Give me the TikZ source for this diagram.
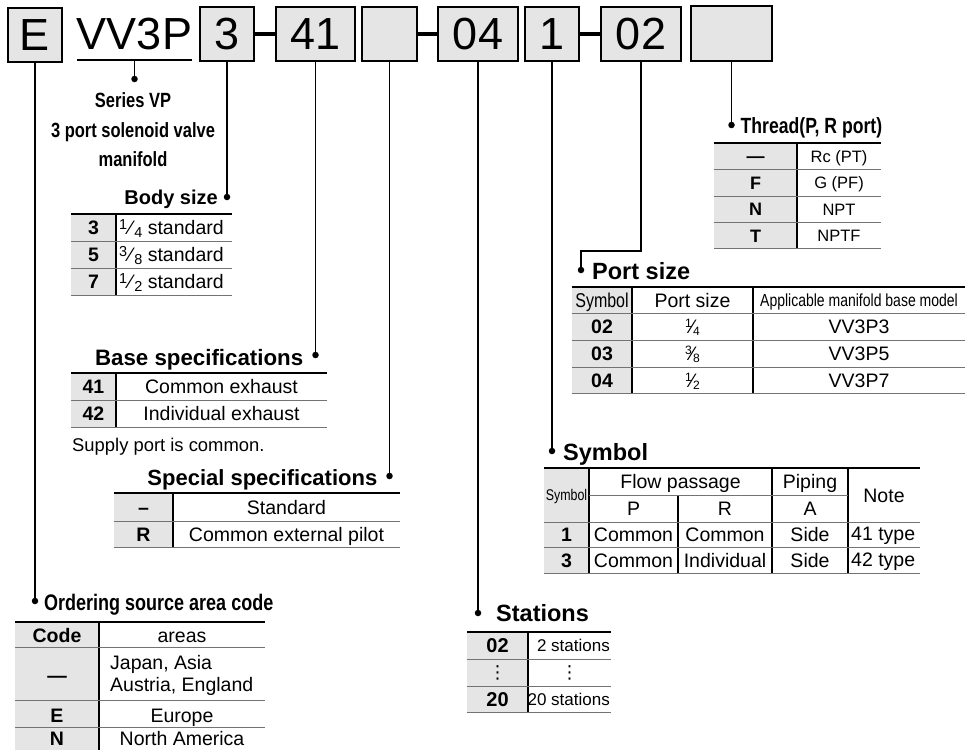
\documentclass[tikz,border=0pt]{standalone}
\usepackage{fontspec}
\setmainfont{Liberation Sans}
\newfontfamily\narrowfont[FakeStretch=0.8]{Liberation Sans}
\newfontfamily\dejavu{DejaVu Sans}
\usetikzlibrary{calc,positioning}

\definecolor{boxgray}{gray}{0.9}
\definecolor{rulegray}{gray}{0.45}
\newcommand\fr[2]{\raisebox{.55ex}{\scalebox{.62}{#1}}\kern-.05em\symbol{"2044}\kern-.05em\raisebox{-.2ex}{\scalebox{.62}{#2}}}
\newcommand\frw[2]{\raisebox{.5ex}{\scalebox{.74}{#1}}\kern.1em\symbol{"2044}\kern.1em\raisebox{-.25ex}{\scalebox{.74}{#2}}}
\newcommand\vdotsx{{\dejavu\symbol{"22EE}}}

\tikzset{
  partbox/.style={draw, line width=2.3, fill=boxgray, minimum height=54, inner sep=0,
    font=\fontsize{45}{45}\selectfont},
  joiner/.style={line width=3.2},
  leader/.style={line width=1.6},
  ldot/.style={circle, fill, inner sep=0, minimum size=6.5},
  hbold/.style={inner sep=0, font=\bfseries\fontsize{23.5}{26}\selectfont},
  hnarrow/.style={inner sep=0, font=\narrowfont\bfseries\fontsize{22}{30}\selectfont},
  toprule/.style={line width=2},
  rowrule/.style={line width=1, draw=rulegray},
  colrule/.style={line width=1.2},
  cell/.style={inner sep=0, anchor=base, font=\fontsize{19.5}{22}\selectfont},
  code/.style={cell, font=\bfseries\fontsize{19.5}{22}\selectfont},
}

\begin{document}
\begin{tikzpicture}[x=1pt,y=-1pt]
\useasboundingbox (0,0) rectangle (976,750);

\node[partbox, minimum width=54] (bE) at (35,35) {E};
\node[inner sep=0, font=\fontsize{45}{45}\selectfont] (vv) at (134.5,34) {VV3P};
\node[partbox, minimum width=54] (b3) at (227,34) {3};
\node[partbox, minimum width=79] (b41) at (315.5,34) {41};
\node[partbox, minimum width=55] (bS) at (389.5,34) {};
\node[partbox, minimum width=80] (b04) at (478,34) {04};
\node[partbox, minimum width=54] (b1) at (552,34) {1};
\node[partbox, minimum width=80] (b02) at (641,34) {02};
\node[partbox, minimum width=81, minimum height=55] (bT) at (731.5,33.5) {};
\draw[joiner] (b3) -- (b41) (bS) -- (b04) (b1) -- (b02);

\coordinate (vvl) at ($(vv.south)+(0,10)$);
\draw[leader] ($(vv.south west)+(0,10)$) -- ($(vv.south east)+(0,10)$);
\node[ldot] (dVP) at (vv.south |- 0,79) {};
\draw[leader] (vvl) -- (dVP);
\node[hnarrow, font=\narrowfont\bfseries\fontsize{20.6}{29.5}\selectfont, align=center, anchor=north] (series) at (133,92.6) {Series VP\\3 port solenoid valve\\manifold};

\node[ldot] (d3) at (b3 |- 0,197) {};
\node[ldot] (d41) at (b41 |- 0,355) {};
\node[ldot] (dS) at (bS |- 0,476) {};
\node[ldot] (dE) at (bE |- 0,601) {};
\node[ldot] (d04) at (b04 |- 0,613) {};
\node[ldot] (d1) at (b1 |- 0,451) {};
\node[ldot] (d02) at (581,270) {};
\node[ldot] (dT) at (bT |- 0,125) {};
\coordinate (k02) at (b02 |- 0,251);
\draw[leader] (b3) -- (d3) (b41) -- (d41) (bS) -- (dS) (bE) -- (dE) (b04) -- (d04) (b1) -- (d1) (bT) -- (dT);
\draw[leader] (b02) -- (k02) -| (d02);

\node[hbold, font=\bfseries\fontsize{20}{22}\selectfont, anchor=base east] (tBody) at ($(d3)+(-9,7.2)$) {Body size};
\node[hbold, font=\bfseries\fontsize{22.3}{24}\selectfont, anchor=base east] (tBase) at ($(d41)+(-12,10)$) {Base specifications};
\node[hbold, font=\bfseries\fontsize{22}{24}\selectfont, anchor=base east] (tSpec) at ($(dS)+(-12,9)$) {Special specifications};
\node[hnarrow, font=\narrowfont\bfseries\fontsize{22.5}{24}\selectfont, anchor=base west] (tArea) at ($(dE)+(9,9)$) {Ordering source area code};
\node[hbold, anchor=base west] (tStat) at ($(d04)+(18,8.5)$) {Stations};
\node[hbold, anchor=base west] (tSym) at ($(d1)+(11,9.5)$) {Symbol};
\node[hbold, anchor=base west] (tPort) at ($(d02)+(11,9)$) {Port size};
\node[hnarrow, anchor=base west] (tThr) at ($(dT)+(9,8)$) {Thread(P, R port)};

\fill[boxgray] (71,214) rectangle (116,295);
\draw[colrule] (116,214) -- (116,295);
\foreach \y in {241,268,295} \draw[rowrule] (71,\y) -- (232,\y);
\draw[toprule] (71,214) -- (232,214);
\foreach \c/\t [count=\i] in {3/\frw14 standard, 5/\frw38 standard, 7/\frw12 standard} {
  \node[code] (body-c\i) at (93.5,207.5+27*\i) {\c};
  \node[cell, anchor=base west] (body-t\i) at (119,207.5+27*\i) {\t};
}

\fill[boxgray] (71,373) rectangle (116,427);
\draw[colrule] (116,373) -- (116,427);
\foreach \y in {400,427} \draw[rowrule] (71,\y) -- (327,\y);
\draw[toprule] (71,373) -- (327,373);
\foreach \c/\t [count=\i] in {41/Common exhaust, 42/Individual exhaust} {
  \node[code] (base-c\i) at (93.5,366.5+27*\i) {\c};
  \node[cell] (base-t\i) at (221.5,366.5+27*\i) {\t};
}
\node[cell, anchor=base west, font=\fontsize{18.4}{20}\selectfont] (supply) at (72,451.5) {Supply port is common.};

\fill[boxgray] (114,493) rectangle (173,547);
\draw[colrule] (173,493) -- (173,547);
\foreach \y in {521,547} \draw[rowrule] (114,\y) -- (400,\y);
\draw[toprule] (114,493) -- (400,493);
\foreach \c/\t [count=\i] in {–/Standard, R/Common external pilot} {
  \node[code] (spec-c\i) at (143.5,487+27*\i) {\c};
  \node[cell] (spec-t\i) at (286.5,487+27*\i) {\t};
}

\fill[boxgray] (15,622) rectangle (99,750);
\draw[colrule] (99,622) -- (99,750);
\foreach \y in {647,700,727} \draw[rowrule] (15,\y) -- (265,\y);
\draw[toprule] (15,622) -- (265,622);
\node[code] (area-h1) at (57,642) {Code};
\node[cell] (area-h2) at (182,642) {areas};
\node[code] (area-c1) at (57,682) {—};
\node[cell, anchor=west, align=left] (area-t1) at (110,675) {Japan, Asia\\Austria, England};
\node[code] (area-c2) at (57,722) {E};
\node[cell] (area-t2) at (182,722) {Europe};
\node[code] (area-c3) at (57,745) {N};
\node[cell] (area-t3) at (182,745) {North America};

\fill[boxgray] (467,632) rectangle (528,712);
\draw[colrule] (528,632) -- (528,712);
\foreach \y in {659,686,712} \draw[rowrule] (467,\y) -- (611,\y);
\draw[toprule] (467,632) -- (611,632);
\node[code, font=\bfseries\fontsize{20}{22}\selectfont] (stat-c1) at (497.5,652.5) {02};
\node[cell, anchor=base east, font=\fontsize{17}{20}\selectfont] (stat-t1) at (610,651.5) {2 stations};
\node[cell, anchor=center, font=\fontsize{18}{20}\selectfont] (stat-c2) at (497.5,672.5) {\vdotsx};
\node[cell, anchor=center, font=\fontsize{18}{20}\selectfont] (stat-t2) at (569.5,672.5) {\vdotsx};
\node[code, font=\bfseries\fontsize{20}{22}\selectfont] (stat-c3) at (497.5,706) {20};
\node[cell, anchor=base east, font=\fontsize{17}{20}\selectfont] (stat-t3) at (610,705) {20 stations};

\fill[boxgray] (544,468) rectangle (589,573);
\draw[colrule] (589,468) -- (589,573) (678,495) -- (678,573) (772,468) -- (772,573) (848,468) -- (848,573);
\draw[rowrule] (589,495) -- (848,495);
\foreach \y in {522,547,573} \draw[rowrule] (544,\y) -- (920,\y);
\draw[toprule] (544,468) -- (920,468);
\node[cell, font=\narrowfont\fontsize{15.5}{17}\selectfont] (sym-h1) at (566.5,500.5) {Symbol};
\node[cell] (sym-h2) at (680.5,488.5) {Flow passage};
\node[cell] (sym-h3) at (810,488.5) {Piping};
\node[cell] (sym-h4) at (633.5,515.5) {P};
\node[cell] (sym-h5) at (725,515.5) {R};
\node[cell] (sym-h6) at (810,515.5) {A};
\node[cell] (sym-h7) at (884,502) {Note};
\foreach \c/\p/\r/\a/\n [count=\i] in {1/Common/Common/Side/41 type, 3/Common/Individual/Side/42 type} {
  \node[code] (sym-c\i) at (566.5,516+25.5*\i) {\c};
  \node[cell] (sym-p\i) at (633.5,516+25.5*\i) {\p};
  \node[cell] (sym-r\i) at (725,516+25.5*\i) {\r};
  \node[cell] (sym-a\i) at (810,516+25.5*\i) {\a};
  \node[cell, anchor=base west] (sym-n\i) at (851,515+25.5*\i) {\n};
}

\fill[boxgray] (572,287) rectangle (632,393);
\draw[colrule] (632,287) -- (632,393) (753,287) -- (753,393);
\foreach \y in {313,340,367,393} \draw[rowrule] (572,\y) -- (965,\y);
\draw[toprule] (572,287) -- (965,287);
\node[cell, font=\narrowfont\fontsize{20}{22}\selectfont] (port-h1) at (602,307) {Symbol};
\node[cell] (port-h2) at (692.5,307) {Port size};
\node[cell, font=\narrowfont\fontsize{17.5}{20}\selectfont] (port-h3) at (859,306.5) {Applicable manifold base model};
\foreach \c/\s/\m [count=\i] in {02/\fr14/VV3P3, 03/\fr38/VV3P5, 04/\fr12/VV3P7} {
  \node[code] (port-c\i) at (602,306.5+27*\i) {\c};
  \node[cell] (port-s\i) at (692.5,306.5+27*\i) {\s};
  \node[cell] (port-m\i) at (859,306.5+27*\i) {\m};
}

\fill[boxgray] (714,143) rectangle (797,248);
\draw[colrule] (797,143) -- (797,248);
\foreach \y in {169,196,222,248} \draw[rowrule] (714,\y) -- (881,\y);
\draw[toprule] (714,143) -- (881,143);
\foreach \c/\t [count=\i] in {—/Rc (PT), F/G (PF), N/NPT, T/NPTF} {
  \node[code, font=\bfseries\fontsize{18}{20}\selectfont] (thr-c\i) at (755.5,136+26.5*\i) {\c};
  \node[cell, font=\fontsize{16.5}{19}\selectfont] (thr-t\i) at (839,135.5+26.5*\i) {\t};
}
\end{tikzpicture}
\end{document}
